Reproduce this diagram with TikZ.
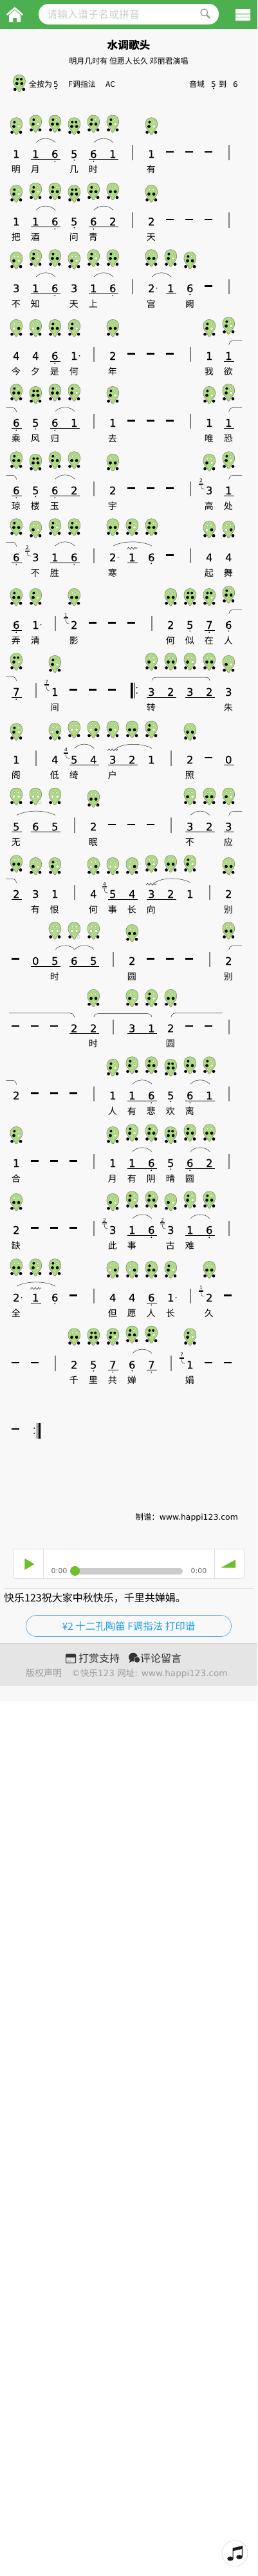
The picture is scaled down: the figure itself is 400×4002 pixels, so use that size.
\documentclass[tikz,border=0pt]{standalone}
\usepackage{fontspec}
\setmainfont[FakeBold=0.3]{DejaVu Sans}
\newfontfamily\plainfont{DejaVu Sans}
\newfontfamily\cjk{Noto Sans CJK SC}
\definecolor{pagebg}{HTML}{F8F8F8}
\definecolor{headgreen}{HTML}{4CAF50}
\definecolor{ocfill}{HTML}{B0DC80}
\definecolor{ocline}{HTML}{707870}
\definecolor{barcol}{HTML}{808080}
\definecolor{playgreen}{HTML}{6EBE2F}
\definecolor{btnblue}{HTML}{1E9FE8}
\definecolor{btnline}{HTML}{5AA9E0}
\tikzset{
  num/.style={anchor=base,inner sep=0pt,font=\fontsize{16.5}{17}\selectfont},
  lyr/.style={anchor=base,inner sep=0pt,font=\cjk\fontsize{14}{14}\selectfont},
  txt/.style={anchor=base west,inner sep=0pt,font=\cjk\fontsize{12}{12}\selectfont},
  slur/.style={line width=.5pt,draw=black!85},
  holew/.style={fill=white,draw=black!45,line width=.3pt}
}
% fingerings: tl tr bl br sideL sideR (1 = closed)
\expandafter\def\csname F5l\endcsname{111111}
\expandafter\def\csname F6l\endcsname{101111}
\expandafter\def\csname F7l\endcsname{111011}
\expandafter\def\csname F1\endcsname{101011}
\expandafter\def\csname F2\endcsname{001111}
\expandafter\def\csname F3\endcsname{001011}
\expandafter\def\csname F4\endcsname{000111}
\expandafter\def\csname F5\endcsname{000011}
\expandafter\def\csname F6\endcsname{000010}
\newcommand\Hole[4]{% x y bit r
  \ifnum#3=1 \fill[black] (#1,#2) circle[radius=#4];
  \else \path[holew] (#1,#2) circle[radius={#4-0.2}];\fi}
\newcommand\OcX[8]{% x y0 bits
  \begin{scope}[shift={(#1,#2)}]
  \draw[fill=ocfill,draw=ocline,line width=.5pt] (0,0)
    .. controls (5.5,0) and (9.4,4) .. (9.4,10)
    .. controls (9.4,15.5) and (6.6,18) .. (4,20.5)
    .. controls (2.6,22) and (2.2,26.6) .. (0,26.6)
    .. controls (-2.2,26.6) and (-2.6,22) .. (-4,20.5)
    .. controls (-6.6,18) and (-9.4,15.5) .. (-9.4,10)
    .. controls (-9.4,4) and (-5.5,0) .. (0,0) -- cycle;
  \Hole{-2.9}{7}{#3}{2.0}\Hole{2.9}{7}{#4}{2.0}
  \Hole{-3.8}{13.8}{#5}{2.4}\Hole{3.8}{13.8}{#6}{2.4}
  \Hole{-6.7}{22.8}{#7}{2.4}\Hole{6.7}{22.8}{#8}{2.4}
  \end{scope}}
\newcommand\Oc[3]{%
  \if#2H\def\ty{60}\else\def\ty{56.3}\fi
  \pgfmathsetmacro\xa{25.3+30*#1}\pgfmathsetmacro\ya{\Yv-\ty}%
  \edef\tmp{\noexpand\OcX{\xa}{\ya}\csname F#3\endcsname}\tmp}
\newcommand\Rw[1]{\def\Yv{#1}}
\newcommand\Ly[2]{\if\relax\detokenize{#2}\relax\else
  \node[lyr] at ({25.3+30*#1-0.5},{\Yv+29.3}) {#2};\fi}
\newcommand\Dg[2]{\node[num] at ({25.3+30*#1},{\Yv+6.3}) {#2};}
% plain note with ocarina
\newcommand\Nn[4]{\Oc{#1}{#3}{#2}\Dg{#1}{#2}\Ly{#1}{#4}}
% low-octave note, no underline
\newcommand\Nl[4]{\Oc{#1}{#3}{#2l}\Dg{#1}{#2}\fill ({25.3+30*#1},{\Yv+9.7}) circle[radius=1];\Ly{#1}{#4}}
% low-octave note under a beam
\newcommand\Nm[4]{\Oc{#1}{#3}{#2l}\Dg{#1}{#2}\fill ({25.3+30*#1},{\Yv+11.7}) circle[radius=1];\Ly{#1}{#4}}
\newcommand\Dd[1]{\fill ({25.3+30*#1-7.3},{\Yv-4.4}) rectangle ({25.3+30*#1+4.7},{\Yv-2.2});}
\newcommand\Bb[1]{\fill[barcol] ({25.3+30*#1-0.1},{\Yv-13.7}) rectangle ({25.3+30*#1+1.6},{\Yv+9.7});}
\newcommand\Uu[2]{\fill ({25.3+30*#1-7.3},{\Yv+7.9}) rectangle ({25.3+30*#2+8.7},{\Yv+8.9});}
\newcommand\Rd[1]{\fill ({25.3+30*#1+8.3},{\Yv}) circle[radius=.9];}
\newcommand\Sl[2]{\pgfmathsetmacro\xa{25.3+30*#1+.7}\pgfmathsetmacro\xb{25.3+30*#2+.7}%
  \pgfmathsetmacro\xd{(\xb-\xa)*.25}%
  \draw[slur] (\xa,\Yv-17.5) .. controls (\xa+\xd,\Yv-26) and (\xb-\xd,\Yv-26) .. (\xb,\Yv-17.5);}
% slur with raised start, after a zigzag
\newcommand\SlZ[2]{\pgfmathsetmacro\xa{25.3+30*#1+1.2}\pgfmathsetmacro\xb{25.3+30*#2+.7}%
  \pgfmathsetmacro\xd{(\xb-\xa)*.25}%
  \draw[slur] (\xa,\Yv-13.5) .. controls (\xa+\xd*.7,\Yv-27) and (\xb-\xd,\Yv-26) .. (\xb,\Yv-17.5);}
\newcommand\SlF[2]{\pgfmathsetmacro\xa{25.3+30*#1+.7}\pgfmathsetmacro\xb{25.3+30*#2+.7}%
  \draw[slur] (\xa,\Yv-17.5) .. controls (\xa+1,\Yv-21) and (\xa+3,\Yv-22.6) .. (\xa+7,\Yv-22.6) -- (\xb-7,\Yv-22.6) .. controls (\xb-3,\Yv-22.6) and (\xb-1,\Yv-21) .. (\xb,\Yv-17.5);}
\newcommand\SlS[2]{\pgfmathsetmacro\xa{25.3+30*#1+.4}%
  \draw[slur] (\xa,\Yv-17) .. controls (\xa+1,\Yv-21) and (\xa+3,\Yv-23.4) .. (\xa+7,\Yv-23.4) -- (#2,\Yv-23.4);}
\newcommand\SlE[2]{\pgfmathsetmacro\xb{25.3+30*#2+.4}%
  \draw[slur] (#1,\Yv-23.4) -- (\xb-7,\Yv-23.4) .. controls (\xb-3,\Yv-23.4) and (\xb-1,\Yv-21) .. (\xb,\Yv-17);}
\newcommand\Gr[2]{\pgfmathsetmacro\xa{25.3+30*#1}%
  \node[inner sep=0pt,font=\plainfont\fontsize{7.5}{7.5}\selectfont] at (\xa-12.7,\Yv-15.3) {#2};
  \draw[line width=.5pt] (\xa-16,\Yv-11.7) -- (\xa-9.3,\Yv-11.7) (\xa-16,\Yv-9.4) -- (\xa-9.3,\Yv-9.4);
  \draw[line width=.55pt,black!80] (\xa-13.2,\Yv-9.4) .. controls (\xa-13.2,\Yv-4) and (\xa-12,\Yv-1.7) .. (\xa-7.7,\Yv-1.7);}
\newcommand\Tr[2]{\pgfmathsetmacro\xa{#1}\pgfmathsetmacro\ya{\Yv-#2}%
  \draw[line width=.55pt,black!85,shift={(\xa,\ya)}] (-8,1.5) -- (-5.5,-1.5) -- (-3,1.5) -- (-.5,-1.5) -- (2,1.5) -- (4.5,-1.5) -- (6,1) -- (8,-1.2);}
\begin{document}
\begin{tikzpicture}[x=1pt,y=-1pt]
\useasboundingbox (0,0) rectangle (400,4002);
\fill[white] (0,0) rectangle (400,4002);
\fill[pagebg] (0,0) rectangle (400,2642.7);
% header
\fill[headgreen] (0,0) rectangle (400,45);
\draw[white,line width=2.6pt,line join=miter] (10.8,23) -- (23,12.6) -- (35.2,23);
\fill[white,even odd rule] (14,23.5) -- (23,15.8) -- (32,23.5) -- (32,34) -- (14,34) -- cycle (20,28) rectangle (26,34);
\fill[white,rounded corners=15.5pt] (60,6) rectangle (340,38);
\node[txt,text=black!20,font=\cjk\fontsize{16}{16}\selectfont] (search) at (73,28) {请输入谱子名或拼音};
\draw[black!42,line width=1.3pt] (317.3,19.3) circle[radius=5.3];
\draw[black!42,line width=2.2pt] (321.3,23.3) -- (326,28);
\fill[white] (366,14) rectangle (389,21.3) (366,22.4) rectangle (389,26) (366,27.1) rectangle (389,32);
% title
\node[anchor=base,inner sep=0pt,font=\cjk\bfseries\fontsize{16.7}{17}\selectfont] (title) at (200,76) {水调歌头};
\node[anchor=base,inner sep=0pt,font=\cjk\fontsize{12}{12}\selectfont] (subtitle) at (200,99.5) {明月几时有 但愿人长久 邓丽君演唱};
% legend
\def\Yv{0}
\OcX{30}{116}111111
\node[txt] (lgd) at (45,135) {全按为};
\node[anchor=base,inner sep=0pt,font=\plainfont\fontsize{12}{12}\selectfont] (lgdfive) at (87,135) {5};
\fill (87,137.5) circle[radius=1];
\node[txt] (fkey) at (106,135) {F调指法};
\node[txt] (ac) at (164,135) {AC};
\node[txt] (rng) at (294,135) {音域};
\node[anchor=base,inner sep=0pt,font=\plainfont\fontsize{12}{12}\selectfont] (rngfive) at (332,135) {5};
\fill (332,137.5) circle[radius=1];
\node[txt] (dao) at (340,135) {到};
\node[anchor=base,inner sep=0pt,font=\plainfont\fontsize{12}{12}\selectfont] (rngsix) at (366,135) {6};
% row 1
\Rw{239}
\Nn{0}{1}{L}{明}\Nn{1}{1}{H}{月}\Nm{2}{6}{H}{}\Nl{3}{5}{L}{几}\Nm{4}{6}{H}{时}\Nn{5}{1}{H}{}\Bb{6}\Nn{7}{1}{L}{有}\Dd{8}\Dd{9}\Dd{10}\Bb{11}
\Uu{1}{2}\Uu{4}{5}\Sl{1}{2}\Sl{4}{5}
% row 2
\Rw{344}
\Nn{0}{1}{L}{把}\Nn{1}{1}{H}{酒}\Nm{2}{6}{H}{}\Nl{3}{5}{L}{问}\Nm{4}{6}{H}{青}\Nn{5}{2}{H}{}\Bb{6}\Nn{7}{2}{L}{天}\Dd{8}\Dd{9}\Dd{10}\Bb{11}
\Uu{1}{2}\Uu{4}{5}\Sl{1}{2}\Sl{4}{5}
% row 3
\Rw{447.7}
\Nn{0}{3}{L}{不}\Nn{1}{1}{H}{知}\Nm{2}{6}{H}{}\Nn{3}{3}{L}{天}\Nn{4}{1}{H}{上}\Nm{5}{6}{H}{}\Bb{6}\Nn{7}{2}{H}{宫}\Rd{7}\Nn{8}{1}{H}{}\Nl{9}{6}{L}{阙}\Dd{10}\Bb{11}
\Uu{1}{2}\Uu{4}{5}\Uu{8}{8}\Sl{1}{2}\Sl{4}{5}\Sl{7}{8}
% row 4
\Rw{552.7}
\Nn{0}{4}{L}{今}\Nn{1}{4}{L}{夕}\Nm{2}{6}{L}{是}\Nn{3}{1}{L}{何}\Rd{3}\Bb{4}\Nn{5}{2}{L}{年}\Dd{6}\Dd{7}\Dd{8}\Bb{9}\Nn{10}{1}{L}{我}\Nn{11}{1}{H}{欲}
\Uu{2}{2}\Uu{11}{11}\SlS{11}{376}
% row 5
\Rw{656.7}
\Nm{0}{6}{H}{乘}\Nl{1}{5}{L}{风}\Nm{2}{6}{H}{归}\Nn{3}{1}{H}{}\Bb{4}\Nn{5}{1}{L}{去}\Dd{6}\Dd{7}\Dd{8}\Bb{9}\Nn{10}{1}{L}{唯}\Nn{11}{1}{H}{恐}
\Uu{0}{0}\Uu{2}{3}\Uu{11}{11}\SlE{9.3}{0}\Sl{2}{3}\SlS{11}{376}
% row 6
\Rw{761.7}
\Nm{0}{6}{H}{琼}\Nl{1}{5}{L}{楼}\Nm{2}{6}{H}{玉}\Nn{3}{2}{H}{}\Bb{4}\Nn{5}{2}{L}{宇}\Dd{6}\Dd{7}\Dd{8}\Bb{9}\Gr{10}{2}\Nn{10}{3}{L}{高}\Nn{11}{1}{H}{处}
\Uu{0}{0}\Uu{2}{3}\Uu{11}{11}\SlE{9.3}{0}\Sl{2}{3}\SlS{11}{376}
% row 7
\Rw{865.7}
\Nm{0}{6}{H}{}\Gr{1}{2}\Nn{1}{3}{L}{不}\Nn{2}{1}{H}{胜}\Nm{3}{6}{H}{}\Bb{4}\Nn{5}{2}{H}{寒}\Rd{5}\Nn{6}{1}{H}{}\Nl{7}{6}{H}{}\Dd{8}\Bb{9}\Nn{10}{4}{L}{起}\Nn{11}{4}{L}{舞}
\Uu{0}{0}\Uu{2}{3}\Uu{6}{6}\SlE{9.3}{0}\Sl{2}{3}\Sl{5}{7}\Tr{205.3}{14}
% row 8
\Rw{970.7}
\Nm{0}{6}{L}{弄}\Nn{1}{1}{L}{清}\Rd{1}\Bb{2}\Gr{3}{1}\Nn{3}{2}{L}{影}\Dd{4}\Dd{5}\Dd{6}\Bb{7}\Nn{8}{2}{L}{何}\Nl{9}{5}{L}{似}\Nm{10}{7}{L}{在}\Nl{11}{6}{H}{人}
\Uu{0}{0}\Uu{10}{10}\SlS{11}{376}
% row 9
\Rw{1074.7}
\Nm{0}{7}{H}{}\Bb{1}\Gr{2}{7}\Nn{2}{1}{L}{间}\Dd{3}\Dd{4}\Dd{5}
\fill (203,\Yv-14) rectangle (206.6,\Yv+10.3) (208,\Yv-14) rectangle (209,\Yv+10.3) (212.7,\Yv-6.4) circle[radius=1.1] (212.7,\Yv+2) circle[radius=1.1];
\Nn{7}{3}{H}{转}\Nn{8}{2}{H}{}\Nn{9}{3}{H}{}\Nn{10}{2}{H}{}\Nn{11}{3}{L}{朱}
\Uu{0}{0}\Uu{7}{8}\Uu{9}{10}\SlE{9.3}{0}\SlF{7}{10}
% row 10
\Rw{1180}
\Nn{0}{1}{L}{阁}\Bb{1}\Nn{2}{4}{L}{低}\Gr{3}{4}\Nn{3}{5}{H}{绮}\Nn{4}{4}{H}{}\Nn{5}{3}{H}{户}\Nn{6}{2}{H}{}\Nn{7}{1}{H}{}\Bb{8}\Nn{9}{2}{L}{照}\Dd{10}\Dg{11}{0}
\Uu{3}{4}\Uu{5}{6}\Uu{11}{11}\Sl{3}{4}\SlZ{5}{7}\Tr{175}{15}
% row 11
\Rw{1284}
\Nn{0}{5}{H}{无}\Nn{1}{6}{H}{}\Nn{2}{5}{H}{}\Bb{3}\Nn{4}{2}{L}{眠}\Dd{5}\Dd{6}\Dd{7}\Bb{8}\Nn{9}{3}{H}{不}\Nn{10}{2}{H}{}\Nn{11}{3}{H}{应}
\Uu{0}{0}\Uu{1}{2}\Uu{9}{10}\Uu{11}{11}\Sl{0}{2}\Sl{9}{10}\SlS{11}{376}
% row 12
\Rw{1388.7}
\Nn{0}{2}{H}{}\Nn{1}{3}{L}{有}\Nn{2}{1}{L}{恨}\Bb{3}\Nn{4}{4}{L}{何}\Gr{5}{4}\Nn{5}{5}{L}{事}\Nn{6}{4}{L}{长}\Nn{7}{3}{H}{向}\Nn{8}{2}{H}{}\Nn{9}{1}{H}{}\Bb{10}\Nn{11}{2}{L}{别}
\Uu{0}{0}\Uu{5}{6}\Uu{7}{8}\SlE{9.3}{0}\SlZ{7}{9}\Tr{235}{15}
% row 13
\Rw{1492.7}
\Dd{0}\Dg{1}{0}\Nn{2}{5}{H}{时}\Nn{3}{6}{H}{}\Nn{4}{5}{H}{}\Bb{5}\Nn{6}{2}{L}{圆}\Dd{7}\Dd{8}\Dd{9}\Bb{10}\Nn{11}{2}{H}{别}
\Uu{1}{2}\Uu{3}{4}\Sl{2}{3}\Sl{3}{4}\SlS{11}{376}
% row 14
\Rw{1597.3}
\Dd{0}\Dd{1}\Dd{2}\Dg{3}{2}\Nn{4}{2}{H}{时}\Bb{5}\Nn{6}{3}{H}{}\Nn{7}{1}{H}{}\Nn{8}{2}{H}{圆}\Dd{9}\Dd{10}\Bb{11}
\Uu{3}{4}\Uu{6}{7}\SlE{14}{3}\SlF{4}{7}\SlS{8}{346}
% row 15
\Rw{1701.7}
\Dg{0}{2}\Dd{1}\Dd{2}\Dd{3}\Bb{4}\Nn{5}{1}{L}{人}\Nn{6}{1}{H}{有}\Nm{7}{6}{H}{悲}\Nl{8}{5}{L}{欢}\Nm{9}{6}{H}{离}\Nn{10}{1}{H}{}\Bb{11}
\Uu{6}{7}\Uu{9}{10}\SlE{9.3}{0}\Sl{6}{7}\Sl{9}{10}
% row 16
\Rw{1806.7}
\Nn{0}{1}{L}{合}\Dd{1}\Dd{2}\Dd{3}\Bb{4}\Nn{5}{1}{L}{月}\Nn{6}{1}{H}{有}\Nm{7}{6}{H}{阴}\Nl{8}{5}{L}{晴}\Nm{9}{6}{H}{圆}\Nn{10}{2}{H}{}\Bb{11}
\Uu{6}{7}\Uu{9}{10}\Sl{6}{7}\Sl{9}{10}
% row 17
\Rw{1910.7}
\Nn{0}{2}{L}{缺}\Dd{1}\Dd{2}\Dd{3}\Bb{4}\Gr{5}{2}\Nn{5}{3}{L}{此}\Nn{6}{1}{H}{事}\Nm{7}{6}{H}{}\Gr{8}{2}\Nn{8}{3}{L}{古}\Nn{9}{1}{H}{难}\Nm{10}{6}{H}{}\Bb{11}
\Uu{6}{7}\Uu{9}{10}\Sl{6}{7}\Sl{9}{10}
% row 18
\Rw{2015.7}
\Nn{0}{2}{H}{全}\Rd{0}\Nn{1}{1}{H}{}\Nl{2}{6}{H}{}\Dd{3}\Bb{4}\Nn{5}{4}{L}{但}\Nn{6}{4}{L}{愿}\Nm{7}{6}{L}{人}\Nn{8}{1}{L}{长}\Rd{8}\Bb{9}\Gr{10}{1}\Nn{10}{2}{L}{久}\Dd{11}
\Uu{1}{1}\Uu{7}{7}\Sl{0}{2}\Tr{55.3}{14}
% row 19
\Rw{2120}
\Dd{0}\Dd{1}\Bb{2}\Nn{3}{2}{L}{千}\Nl{4}{5}{L}{里}\Nm{5}{7}{L}{共}\Nl{6}{6}{H}{婵}\Nm{7}{7}{H}{}\Bb{8}\Gr{9}{7}\Nn{9}{1}{L}{娟}\Dd{10}\Dd{11}
\Uu{5}{5}\Uu{7}{7}\Sl{6}{7}
% row 20
\Rw{2223}
\Dd{0}
\fill (53.3,\Yv-4.3) circle[radius=1.1] (53.3,\Yv+3.7) circle[radius=1.1] (57,\Yv-12) rectangle (58,\Yv+12) (59.6,\Yv-12) rectangle (63.2,\Yv+12);
% credit
\node[anchor=base east,inner sep=0pt,font=\plainfont\fontsize{12.4}{13}\selectfont] (credit) at (370,2361) {{\cjk 制谱：}www.happi123.com};
% player
\draw[draw=black!13,fill=white,rounded corners=3pt,line width=.8pt] (20.5,2406.5) rectangle (379.5,2452.5);
\draw[black!13,line width=.8pt] (67.5,2406.5) -- (67.5,2452.5) (333.5,2406.5) -- (333.5,2452.5);
\fill[playgreen] (38.3,2421) -- (53.5,2430) -- (38.3,2439) -- cycle;
\fill[playgreen] (343.5,2435.5) -- (366,2423) -- (366,2435.5) -- cycle;
\fill[black!20,rounded corners=4.5pt] (118,2436) rectangle (284,2446);
\fill[playgreen] (116.5,2440.5) circle[radius=7.5];
\node[inner sep=0pt,text=black!60,font=\plainfont\fontsize{11}{11}\selectfont] (t1) at (92,2440.5) {0:00};
\node[inner sep=0pt,text=black!60,font=\plainfont\fontsize{11}{11}\selectfont] (t2) at (309,2440.5) {0:00};
\draw[black!14,line width=.8pt] (6,2467.3) -- (394,2467.3);
\node[txt,font=\cjk\fontsize{16}{16}\selectfont] (wish) at (6,2488) {快乐123祝大家中秋快乐，千里共婵娟。};
% button
\draw[btnline,line width=.7pt,rounded corners=16pt] (40.5,2509.5) rectangle (359.5,2542.5);
\node[anchor=base,inner sep=0pt,text=btnblue,font=\cjk\fontsize{15.5}{16}\selectfont] (buy) at (200,2532) {¥2 十二孔陶笛 F调指法 打印谱};
% footer
\fill[black!10] (0,2553) rectangle (400,2618.7);
\draw[black!20,line width=.8pt] (0,2553) -- (400,2553);
\draw[black!80,line width=1.2pt,rounded corners=.8pt] (102.6,2570) rectangle (117.4,2583.4);
\fill[black!80] (102.6,2570) rectangle (117.4,2574.5);
\draw[black!80,line width=.7pt] (104.5,2580.5) -- (107,2580.5) (108.5,2580.5) -- (110,2580.5);
\node[txt,text=black!80,font=\cjk\fontsize{16}{16}\selectfont] (pay) at (122,2582) {打赏支持};
\fill[black!80] (207,2574.5) ellipse[x radius=7,y radius=6.8];
\fill[black!80] (202,2579) -- (205,2581) -- (201,2583) -- cycle;
\draw[fill=black!80,draw=black!10,line width=.7pt] (213,2578.5) circle[radius=4.8];
\node[txt,text=black!80,font=\cjk\fontsize{16}{16}\selectfont] (cmt) at (218,2582) {评论留言};
\node[txt,text=black!38,font=\cjk\fontsize{14}{14}\selectfont] (copy) at (40,2604) {版权声明};
\node[txt,text=black!38,font=\plainfont\fontsize{13.6}{14}\selectfont] (site) at (111,2604) {©{\cjk 快乐}123 {\cjk 网址}: www.happi123.com};
% music button
\draw[fill=white,draw=black!13,line width=.8pt] (365,3966.7) circle[radius=20];
\fill[black!90] (358,3975) ellipse[x radius=4.8,y radius=3.4];
\fill[black!90] (372,3972.5) ellipse[x radius=4.8,y radius=3.4];
\fill[black!90] (361.5,3958.5) -- (377,3955) -- (377,3972.5) -- (375.8,3972.5) -- (375.8,3960) -- (362.7,3963) -- (362.7,3975) -- (361.5,3975) -- cycle;
\end{tikzpicture}
\end{document}
